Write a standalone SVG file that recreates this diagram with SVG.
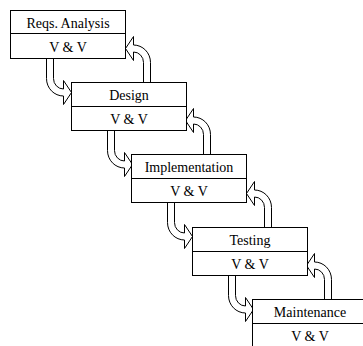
<svg xmlns="http://www.w3.org/2000/svg" width="363" height="346" viewBox="0 0 363 346">
<style>
.box{fill:#fff;stroke:#000;stroke-width:1}
.div{stroke:#000;stroke-width:1}
.arr{fill:#fff;stroke:#000;stroke-width:1;stroke-linejoin:miter}
text{font-family:"Liberation Serif","Times New Roman",serif;font-size:14px;fill:#000;text-anchor:middle}
</style>
<defs>
<path id="fwd" d="M36,0 L36,20 A17,17.5 0 0 0 53,37.5 L53,46 L61,34 L53,22 L53,30.5 A10,10.5 0 0 1 43,20 L43,0"/>
</defs>
<rect width="363" height="346" fill="#fff"/>
<g id="connectors">
<use href="#fwd" class="arr" transform="translate(10.5,58.5)"/>
<use href="#fwd" class="arr" transform="translate(71.5,130.5)"/>
<use href="#fwd" class="arr" transform="translate(131.5,202.5)"/>
<use href="#fwd" class="arr" transform="translate(192.5,275.5)"/>
<use href="#fwd" class="arr" transform="translate(186.5,82.5) rotate(180)"/>
<use href="#fwd" class="arr" transform="translate(246.5,154.5) rotate(180)"/>
<use href="#fwd" class="arr" transform="translate(307.5,227.5) rotate(180)"/>
<use href="#fwd" class="arr" transform="translate(367.5,299.5) rotate(180)"/>
</g>
<g id="n1">
<rect class="box" x="10.5" y="10.5" width="115" height="48"/>
<line class="div" x1="10.5" y1="33.5" x2="125.5" y2="33.5"/>
<text x="68" y="28">Reqs. Analysis</text>
<text x="68" y="52">V &amp; V</text>
</g>
<g id="n2">
<rect class="box" x="71.5" y="82.5" width="115" height="48"/>
<line class="div" x1="71.5" y1="106.5" x2="186.5" y2="106.5"/>
<text x="129" y="100">Design</text>
<text x="129" y="124">V &amp; V</text>
</g>
<g id="n3">
<rect class="box" x="131.5" y="154.5" width="115" height="48"/>
<line class="div" x1="131.5" y1="178.5" x2="246.5" y2="178.5"/>
<text x="189" y="172">Implementation</text>
<text x="189" y="196">V &amp; V</text>
</g>
<g id="n4">
<rect class="box" x="192.5" y="227.5" width="115" height="48"/>
<line class="div" x1="192.5" y1="251.5" x2="307.5" y2="251.5"/>
<text x="250" y="245">Testing</text>
<text x="250" y="269">V &amp; V</text>
</g>
<g id="n5">
<rect class="box" x="252.5" y="299.5" width="115" height="48"/>
<line class="div" x1="252.5" y1="323.5" x2="367.5" y2="323.5"/>
<text x="310" y="317">Maintenance</text>
<text x="310" y="341">V &amp; V</text>
</g>
</svg>
